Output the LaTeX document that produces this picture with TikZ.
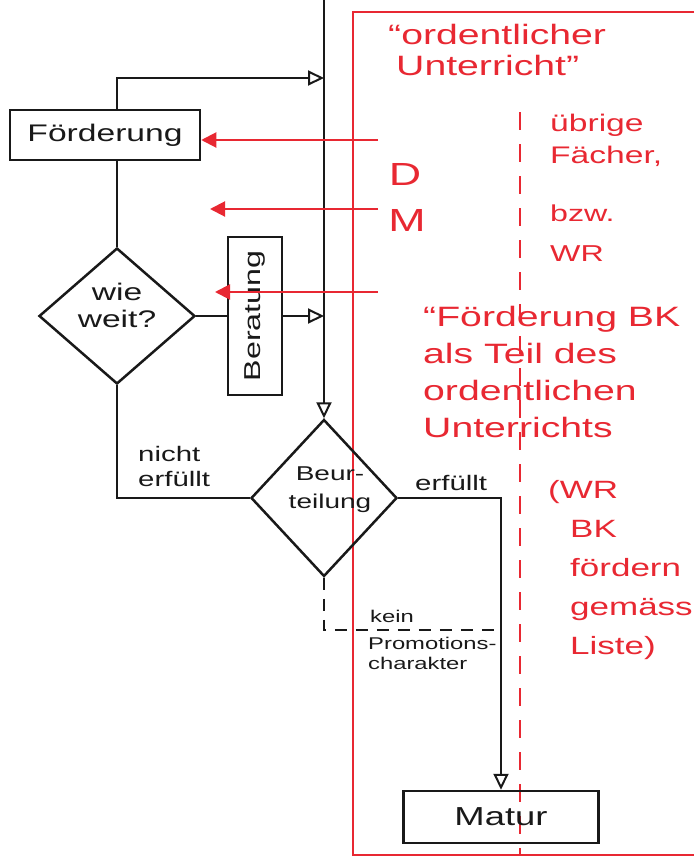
\documentclass[tikz,border=0pt]{standalone}
\usepackage{fontspec}
\setmainfont{Liberation Sans}
\newfontfamily\hand[FakeStretch=1.4]{Liberation Sans}
\usetikzlibrary{arrows.meta,shapes.geometric}
\definecolor{pen}{RGB}{232,40,50}
\definecolor{ink}{RGB}{25,25,25}
\begin{document}
\begin{tikzpicture}[x=1pt,y=-1pt,
  inkline/.style={line width=2.5pt, draw=ink},
  redline/.style={line width=2pt, draw=pen},
  box/.style={inkline, rectangle, inner sep=0pt},
  dia/.style={inkline, diamond, inner sep=0pt},
  btxt/.style={inner sep=0pt, text=ink, align=left},
  rtxt/.style={inner sep=0pt, text=pen, align=left},
  barrow/.style={-{Triangle[open,length=16pt,width=15pt,line width=2pt]}},
  rarrow/.style={-{Triangle[length=15pt,width=15pt]}}
]
\useasboundingbox (0,0) rectangle (694,860);

% red frame and dashed divider
\draw[redline] (694,12) -- (353,12) -- (353,855) -- (694,855);
\draw[redline, dash pattern=on 18pt off 14pt] (520,112) -- (520,855);

% black nodes
\node[box, minimum width=190pt, minimum height=50pt] (foe) at (105,135) {};
\node[btxt, font=\hand\fontsize{24}{28}\selectfont] at (foe) {Förderung};

\node[dia, minimum width=156pt, minimum height=136pt] (wie) at (117,316) {};
\node[btxt, align=center, font=\hand\fontsize{24}{27}\selectfont] at (117,305) {wie\\weit?};

\node[box, minimum width=54pt, minimum height=158pt] (ber) at (255,316) {};
\node[btxt, rotate=90, font=\hand\fontsize{23}{26}\selectfont] at (ber) {Beratung};

\node[dia, minimum width=146pt, minimum height=157pt] (beu) at (324,498) {};
\node[btxt, align=center, font=\hand\fontsize{20}{28}\selectfont] at (330,490) {Beur-\\teilung};

\node[box, minimum width=195pt, minimum height=52pt] (mat) at (501,817) {};
\node[btxt, font=\hand\fontsize{26}{30}\selectfont] at (mat) {Matur};

% coordinates
\coordinate (vtop) at (324,0);
\coordinate (j1) at (324,78);
\coordinate (dj) at (501,630);
\coordinate (r1) at (378,140);
\coordinate (r2) at (378,209);
\coordinate (r3) at (378,292);
\coordinate (t2) at (210,209);
\coordinate (t3) at (215,292);

% black connectors
\draw[inkline, barrow] (vtop) -- (beu.north);
\draw[inkline, barrow] (foe.north -| wie.north) |- (j1);
\draw[inkline] (foe.south -| wie.north) -- (wie.north);
\draw[inkline] (wie.east) -- (wie.east -| ber.west);
\draw[inkline, barrow] (ber.east |- wie.east) -- (vtop |- wie.east);
\draw[inkline] (wie.south) |- (beu.west);
\draw[inkline, barrow] (beu.east) -| (mat.north);
\draw[inkline, dash pattern=on 12pt off 9pt] (beu.south) |- (dj);

% red arrows
\draw[redline, rarrow] (r1) -- (foe.east |- r1);
\draw[redline, rarrow] (r2) -- (t2);
\draw[redline, rarrow] (r3) -- (t3);

% black labels
\node[btxt, anchor=north west, font=\hand\fontsize{21}{25}\selectfont] (lnicht) at (138,446) {nicht\\erfüllt};
\node[btxt, anchor=west, font=\hand\fontsize{21}{25}\selectfont] (lerf) at (415,483) {erfüllt};
\node[btxt, anchor=west, font=\hand\fontsize{17}{20}\selectfont] (lkein) at (370,616) {kein};
\node[btxt, anchor=north west, font=\hand\fontsize{17}{20}\selectfont] (lprom) at (368,637) {Promotions-\\charakter};

% red labels
\node[rtxt, anchor=north west, font=\hand\fontsize{28}{31}\selectfont] (lord) at (388,24) {“ordentlicher\\\hspace*{8pt}Unterricht”};
\node[rtxt, font=\hand\fontsize{32}{36}\selectfont] (lD) at (405,174) {D};
\node[rtxt, font=\hand\fontsize{32}{36}\selectfont] (lM) at (407,220) {M};
\node[rtxt, anchor=north west, font=\hand\fontsize{24}{32}\selectfont] (lueb) at (550,114) {übrige\\Fächer,};
\node[rtxt, anchor=north west, font=\hand\fontsize{23}{40}\selectfont] (lbzw) at (550,205) {bzw.\\WR};
\node[rtxt, anchor=north west, font=\hand\fontsize{28}{37}\selectfont] (lfbk) at (423,306) {“Förderung BK\\als Teil des\\ordentlichen\\Unterrichts};
\node[rtxt, anchor=north west, font=\hand\fontsize{25}{39}\selectfont] (lwr) at (548,480) {(WR};
\node[rtxt, anchor=north west, font=\hand\fontsize{25}{39}\selectfont] (lbk) at (570,520) {BK\\fördern\\gemäss\\Liste)};
\end{tikzpicture}
\end{document}
